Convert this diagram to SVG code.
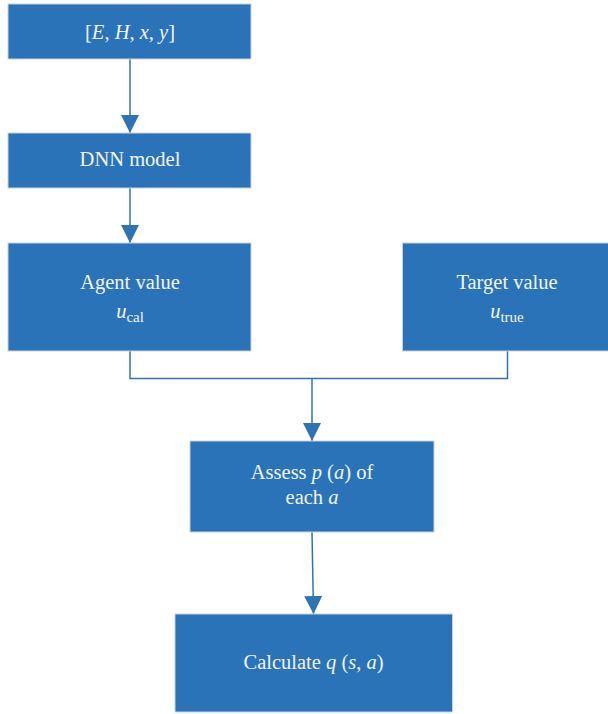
<svg xmlns="http://www.w3.org/2000/svg" width="608" height="714" viewBox="0 0 608 714">
  <style>
    .box { fill: #2a73b8; stroke: #c9d1da; stroke-width: 1; }
    .lbl { font-family: "Liberation Serif", "DejaVu Serif", serif; font-size: 20.5px; fill: #f2f5f9; text-anchor: middle; }
    .it { font-style: italic; }
    .sub { font-size: 15px; }
    .wire { fill: none; stroke: #2e74b5; stroke-width: 1.5; }
  </style>
  <defs>
    <marker id="arrow" viewBox="0 0 18 18" refX="18" refY="9" markerWidth="18" markerHeight="18" markerUnits="userSpaceOnUse" orient="auto">
      <path d="M0,0 L18,9 L0,18 Z" fill="#2e74b5"/>
    </marker>
  </defs>

  <g id="connectors">
    <line class="wire" x1="130" y1="59" x2="130" y2="133" marker-end="url(#arrow)"/>
    <line class="wire" x1="130" y1="188" x2="130" y2="243" marker-end="url(#arrow)"/>
    <polyline class="wire" points="130,351 130,378.5 507.5,378.5 507.5,351"/>
    <line class="wire" x1="312" y1="378.5" x2="312" y2="441" marker-end="url(#arrow)"/>
    <line class="wire" x1="312" y1="532" x2="313.5" y2="614" marker-end="url(#arrow)"/>
  </g>

  <g id="input">
    <rect class="box" x="8" y="4" width="243" height="55"/>
    <text class="lbl" x="130" y="39">[<tspan class="it">E</tspan>, <tspan class="it">H</tspan>, <tspan class="it">x</tspan>, <tspan class="it">y</tspan>]</text>
  </g>

  <g id="dnn">
    <rect class="box" x="8" y="133" width="243" height="55"/>
    <text class="lbl" x="130" y="166">DNN model</text>
  </g>

  <g id="agent">
    <rect class="box" x="8" y="243" width="243" height="108"/>
    <text class="lbl" x="130" y="289">Agent value</text>
    <text class="lbl" x="130" y="318"><tspan class="it">u</tspan><tspan class="sub" dy="4">cal</tspan></text>
  </g>

  <g id="target">
    <rect class="box" x="402.5" y="243" width="210" height="108"/>
    <text class="lbl" x="507" y="289">Target value</text>
    <text class="lbl" x="507" y="318"><tspan class="it">u</tspan><tspan class="sub" dy="4">true</tspan></text>
  </g>

  <g id="assess">
    <rect class="box" x="190" y="441" width="244" height="91"/>
    <text class="lbl" x="312" y="479">Assess <tspan class="it">p</tspan> (<tspan class="it">a</tspan>) of</text>
    <text class="lbl" x="312" y="504">each <tspan class="it">a</tspan></text>
  </g>

  <g id="calculate">
    <rect class="box" x="175" y="614" width="277.5" height="98"/>
    <text class="lbl" x="313.5" y="669">Calculate <tspan class="it">q</tspan> (<tspan class="it">s</tspan>, <tspan class="it">a</tspan>)</text>
  </g>
</svg>
